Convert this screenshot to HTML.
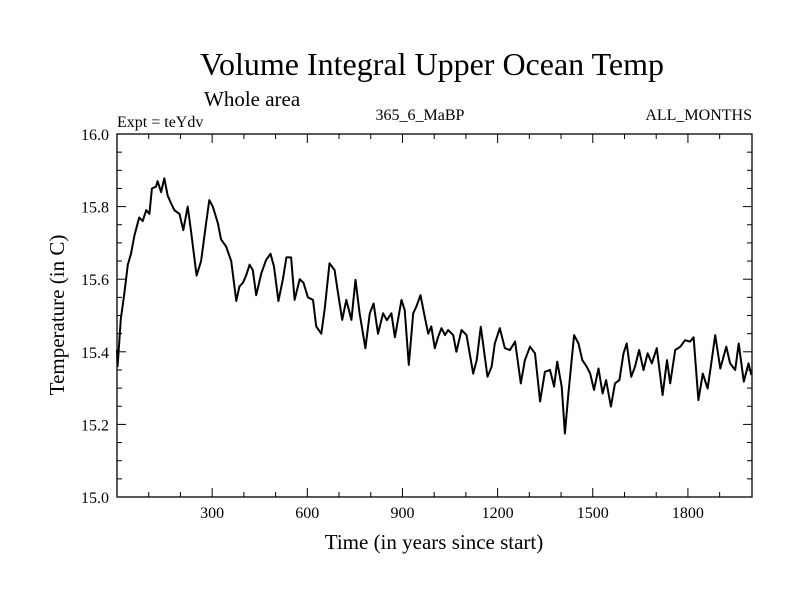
<!DOCTYPE html>
<html><head><meta charset="utf-8"><style>
body{margin:0;background:#fff}
svg text{font-family:"Liberation Serif",serif;fill:#000}
</style></head><body>
<svg id="c" width="800" height="600">
<text x="432" y="75" font-size="32" text-anchor="middle">Volume Integral Upper Ocean Temp</text>
<text x="204" y="106" font-size="21">Whole area</text>
<text x="117" y="127" font-size="16">Expt = teYdv</text>
<text x="420" y="120" font-size="16" text-anchor="middle">365_6_MaBP</text>
<text x="752" y="120" font-size="16" text-anchor="end">ALL_MONTHS</text>
<text x="434" y="549" font-size="21" text-anchor="middle">Time (in years since start)</text>
<text transform="translate(64,315) rotate(-90)" font-size="21" text-anchor="middle">Temperature (in C)</text>
<g id="axes"></g>
<path id="line" fill="none" stroke="#000" stroke-width="2" stroke-linejoin="round"/>
</svg>
<script>
const years=[0,2,12,23,34,44,55,70,81,92,102,110,123,128,139,149,160,170,181,197,209,223,233,251,265,281,291,302,318,328,344,360,376,386,397,407,418,428,439,455,470,484,495,509,523,534,549,560,576,588,602,618,628,644,655,670,686,697,710,723,739,752,765,783,797,809,823,839,851,865,876,897,907,920,934,944,957,970,981,991,1002,1012,1023,1034,1044,1060,1070,1086,1102,1123,1134,1147,1168,1181,1191,1207,1223,1239,1255,1273,1286,1302,1318,1334,1349,1365,1378,1388,1402,1412,1423,1441,1455,1467,1481,1492,1504,1518,1531,1542,1557,1570,1584,1597,1607,1621,1633,1646,1660,1673,1686,1702,1720,1734,1744,1760,1776,1791,1807,1818,1833,1847,1862,1872,1886,1902,1921,1933,1949,1960,1976,1991,2000];
const temps=[15.405,15.36,15.49,15.56,15.64,15.67,15.72,15.77,15.76,15.79,15.78,15.85,15.855,15.87,15.84,15.878,15.83,15.81,15.79,15.78,15.735,15.80,15.735,15.61,15.65,15.754,15.818,15.80,15.754,15.71,15.69,15.65,15.54,15.58,15.59,15.61,15.64,15.625,15.556,15.616,15.653,15.67,15.635,15.54,15.60,15.66,15.66,15.543,15.6,15.59,15.55,15.543,15.47,15.45,15.52,15.644,15.625,15.56,15.488,15.543,15.488,15.598,15.506,15.41,15.506,15.533,15.45,15.506,15.487,15.506,15.44,15.543,15.515,15.364,15.506,15.525,15.556,15.497,15.45,15.47,15.41,15.44,15.465,15.446,15.46,15.446,15.4,15.46,15.446,15.34,15.377,15.469,15.331,15.359,15.423,15.465,15.41,15.405,15.428,15.313,15.377,15.414,15.396,15.263,15.345,15.35,15.304,15.373,15.304,15.175,15.285,15.446,15.423,15.377,15.359,15.34,15.295,15.354,15.285,15.322,15.249,15.313,15.322,15.396,15.423,15.331,15.359,15.405,15.35,15.396,15.368,15.41,15.281,15.377,15.313,15.405,15.414,15.432,15.428,15.44,15.267,15.34,15.299,15.359,15.446,15.354,15.414,15.368,15.35,15.423,15.318,15.368,15.336];
const xTicks=[300,600,900,1200,1500,1800];
const yTicks=[15.0,15.2,15.4,15.6,15.8,16.0];
const L=117,R=752,T=134,B=497,X0=0,X1=2002,Y0=15,Y1=16;
const sx=v=>L+(v-X0)/(X1-X0)*(R-L), sy=v=>B-(v-Y0)/(Y1-Y0)*(B-T);
const ns="http://www.w3.org/2000/svg", g=document.getElementById('axes');
function ln(x1,y1,x2,y2){const e=document.createElementNS(ns,'line');e.setAttribute('x1',x1);e.setAttribute('y1',y1);e.setAttribute('x2',x2);e.setAttribute('y2',y2);e.setAttribute('stroke','#000');e.setAttribute('stroke-width','1');


g.appendChild(e);return e;}
function tx(x,y,s,a,name){const e=document.createElementNS(ns,'text');e.setAttribute('x',x);e.setAttribute('y',y);e.setAttribute('font-size','16');e.setAttribute('text-anchor',a);e.textContent=s;


g.appendChild(e);}
const fr=document.createElementNS(ns,'rect');fr.setAttribute('x',L);fr.setAttribute('y',T);fr.setAttribute('width',R-L);fr.setAttribute('height',B-T);fr.setAttribute('fill','none');fr.setAttribute('stroke','#000');fr.setAttribute('stroke-width','1.3');


g.appendChild(fr);
for(let v=100;v<2000;v+=100){const maj=v%300===0,len=maj?9:5,x=sx(v);ln(x,B,x,B-len);ln(x,T,x,T+len);}
for(let v=15.05;v<16;v+=0.05){const maj=Math.abs(v*5-Math.round(v*5))<1e-6,len=maj?9:5,y=sy(v);ln(L,y,L+len,y);ln(R,y,R-len,y);}
xTicks.forEach(v=>tx(sx(v),B+21,String(v),'middle','x-tick-label'));
yTicks.forEach(v=>tx(L-8,sy(v)+6,v.toFixed(1),'end','y-tick-label'));
document.getElementById('line').setAttribute('d',years.map((y,i)=>(i?'L':'M')+sx(y).toFixed(1)+','+sy(temps[i]).toFixed(1)).join(''));
</script>
</body></html>
